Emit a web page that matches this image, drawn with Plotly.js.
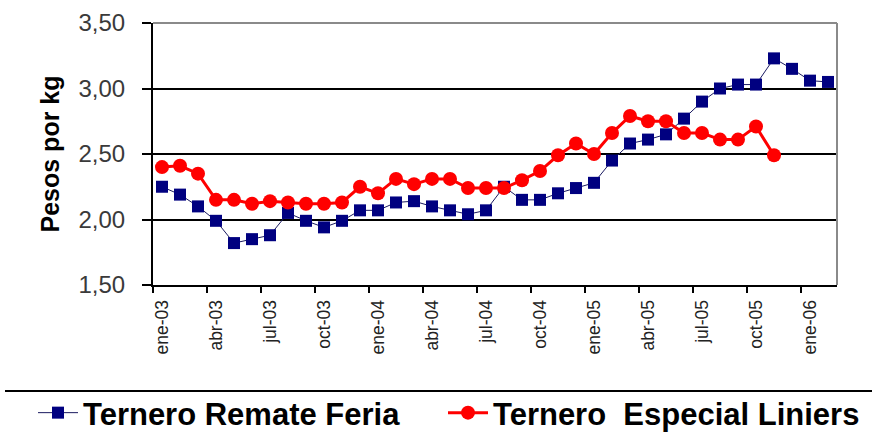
<!DOCTYPE html>
<html>
<head>
<meta charset="utf-8">
<script src="https://cdn.plot.ly/plotly-3.0.1.min.js"></script>
<style>
html,body{margin:0;padding:0;background:#fff;}
#chart{width:872px;height:434px;}
</style>
</head>
<body>
<div id="chart"></div>
<script>
// Months: ene-03 .. feb-06 (38 monthly categories)
var months = ["ene-03","feb-03","mar-03","abr-03","may-03","jun-03","jul-03","ago-03","sep-03","oct-03","nov-03","dic-03",
              "ene-04","feb-04","mar-04","abr-04","may-04","jun-04","jul-04","ago-04","sep-04","oct-04","nov-04","dic-04",
              "ene-05","feb-05","mar-05","abr-05","may-05","jun-05","jul-05","ago-05","sep-05","oct-05","nov-05","dic-05",
              "ene-06","feb-06"];
var tickLabels = ["ene-03","abr-03","jul-03","oct-03","ene-04","abr-04","jul-04","oct-04","ene-05","abr-05","jul-05","oct-05","ene-06"];

var remateFeria = [2.25,2.19,2.10,1.99,1.82,1.85,1.88,2.05,1.99,1.94,1.99,2.07,
                   2.07,2.13,2.14,2.10,2.07,2.04,2.07,2.25,2.15,2.15,2.20,2.24,
                   2.28,2.45,2.58,2.61,2.65,2.77,2.90,3.00,3.03,3.03,3.23,3.15,
                   3.06,3.05];
var especialLiniers = [2.40,2.41,2.35,2.15,2.15,2.12,2.14,2.13,2.12,2.12,2.13,2.25,
                       2.20,2.31,2.27,2.31,2.31,2.24,2.24,2.24,2.30,2.37,2.49,2.58,
                       2.50,2.66,2.79,2.75,2.75,2.66,2.66,2.61,2.61,2.71,2.49];

var seriesNames = ["Ternero Remate Feria","Ternero\u00a0 Especial Liniers"];

var idx = months.map(function(m,i){return i;});
var tickIdx = tickLabels.map(function(t){return months.indexOf(t);});
var boundaryIdx = tickIdx.map(function(i){return i-0.5;});

var traces = [
  {
    x: idx.slice(0, remateFeria.length), y: remateFeria, name: seriesNames[0],
    type: "scatter", mode: "lines+markers", legend: "legend",
    line: {color: "#1a1a60", width: 1},
    marker: {symbol: "square", size: 12, color: "#000080"},
    hovertext: months
  },
  {
    x: idx.slice(0, especialLiniers.length), y: especialLiniers, name: seriesNames[1],
    type: "scatter", mode: "lines+markers", legend: "legend2",
    line: {color: "#ff0000", width: 3},
    marker: {symbol: "circle", size: 14, color: "#ff0000"},
    hovertext: months
  },
  {
    x: [], y: [], xaxis: "x2", showlegend: false, hoverinfo: "skip", type: "scatter"
  }
];

var L = 153, R = 35, T = 23, B = 149;
var W = 872, H = 434;
var pw = W - L - R, ph = H - T - B;
function px(x){ return (x - L) / pw; }
function py(y){ return (H - B - y) / ph; }

function legendAt(xPix) {
  return {
    orientation: "h",
    xref: "container", yref: "container",
    x: xPix / W, xanchor: "left",
    y: (H - 413) / H, yanchor: "middle",
    font: {size: 31, color: "#000", weight: "bold"},
    bgcolor: "rgba(0,0,0,0)",
    itemwidth: 40
  };
}

var layout = {
  width: W, height: H,
  margin: {l: L, r: R, t: T, b: B, pad: 0, autoexpand: false},
  paper_bgcolor: "#ffffff",
  plot_bgcolor: "#ffffff",
  showlegend: true,
  separators: ",.",
  font: {family: "Liberation Sans, Arial, sans-serif", color: "#000"},
  xaxis: {
    range: [-0.5, months.length - 0.5],
    tickmode: "array", tickvals: tickIdx, ticktext: tickLabels,
    tickangle: -90, ticks: "", showgrid: false, zeroline: false,
    showline: true, linecolor: "#000", linewidth: 2,
    tickfont: {size: 17.5, color: "#222"},
    ticklabelstandoff: 6,
    fixedrange: true
  },
  xaxis2: {
    overlaying: "x", side: "bottom", anchor: "y",
    range: [-0.5, months.length - 0.5],
    tickmode: "array", tickvals: boundaryIdx, showticklabels: false,
    ticks: "outside", ticklen: 7, tickwidth: 2, tickcolor: "#000",
    showgrid: false, zeroline: false, showline: false
  },
  yaxis: {
    range: [1.5, 3.5], dtick: 0.5, tickformat: ".2f",
    ticks: "outside", ticklen: 9, tickwidth: 2, tickcolor: "#000",
    showgrid: true, gridcolor: "#000", gridwidth: 2,
    zeroline: false,
    showline: true, linecolor: "#000", linewidth: 2,
    tickfont: {size: 24, color: "#3a3a3a"},
    ticklabelstandoff: 12,
    title: {text: "Pesos por kg", font: {size: 25, color: "#000", family: "Liberation Sans, Arial, sans-serif", weight: "bold"}, standoff: 12},
    fixedrange: true
  },
  legend: legendAt(33),
  legend2: legendAt(443),
  shapes: [
    {type: "line", xref: "paper", yref: "paper", x0: 0, x1: 1, y0: 1, y1: 1,
     line: {color: "#8a8a8a", width: 2}, layer: "above"},
    {type: "line", xref: "paper", yref: "paper", x0: 1, x1: 1, y0: 0, y1: 1,
     line: {color: "#8a8a8a", width: 2}, layer: "above"},
    {type: "line", xref: "paper", yref: "paper", x0: px(5), x1: px(872), y0: py(391), y1: py(391),
     line: {color: "#000", width: 2}}
  ]
};

Plotly.newPlot("chart", traces, layout, {displayModeBar: false, staticPlot: true});
</script>
</body>
</html>
